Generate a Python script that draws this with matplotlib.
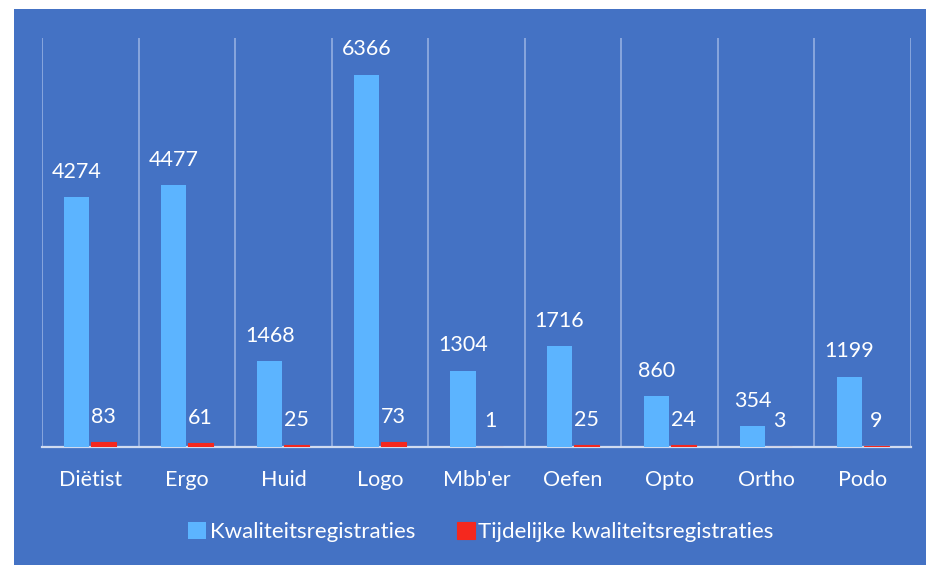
#!/usr/bin/env python3

import matplotlib
matplotlib.use("Agg")
import matplotlib.pyplot as plt
import numpy as np

categories = ["Diëtist", "Ergo", "Huid", "Logo", "Mbb'er", "Oefen", "Opto", "Ortho", "Podo"]
kwaliteit = [4274, 4477, 1468, 6366, 1304, 1716, 860, 354, 1199]
tijdelijk = [83, 61, 25, 73, 1, 25, 24, 3, 9]
series_names = ["Kwaliteitsregistraties", "Tijdelijke kwaliteitsregistraties"]

BG = "#4472C4"
LIGHT_BLUE = "#5CB4FF"
RED = "#F5281E"
GRID = "#8EAADF"

plt.rcParams["font.family"] = ["Lato", "DejaVu Sans"]

W, H = 926, 565
fig = plt.figure(figsize=(W / 100, H / 100), dpi=100, facecolor="white")

# blue panel behind the chart
bg = fig.add_axes([14 / W, 0, 1 - 14 / W, (H - 9) / H], zorder=-1)
bg.set_facecolor(BG)
bg.set_xticks([])
bg.set_yticks([])
for s in bg.spines.values():
    s.set_visible(False)

ax = fig.add_axes([42 / W, (H - 446.7) / H, (911 - 42) / W, (446.7 - 37.7) / H])
ax.set_facecolor("none")

x = np.arange(len(categories))
width = 0.26
offset = 0.14
b1 = ax.bar(x - offset, kwaliteit, width, color=LIGHT_BLUE, label=series_names[0], zorder=3)
b2 = ax.bar(x + offset, tijdelijk, width, color=RED, edgecolor=RED, linewidth=0.8,
            label=series_names[1], zorder=3)

for bars in (b1, b2):
    ax.bar_label(bars, padding=11, color="white", fontsize=15.5)

for b in np.arange(-0.5, len(categories)):
    ax.axvline(b, color=GRID, lw=1.3, zorder=1)

ax.set_xlim(-0.5, len(categories) - 0.5)
ax.set_ylim(0, 7000)
ax.set_yticks([])
ax.set_xticks(x)
ax.set_xticklabels(categories, color="white", fontsize=15.5)
ax.tick_params(axis="x", length=0, pad=17)
for side in ("top", "left", "right"):
    ax.spines[side].set_visible(False)
ax.spines["bottom"].set_color("#D0DBF0")
ax.spines["bottom"].set_linewidth(1.6)
ax.spines["bottom"].set_zorder(2)

fig.legend(loc="center", bbox_to_anchor=(481 / W, (H - 531.7) / H), ncol=2,
           frameon=False, fontsize=16, labelcolor="white",
           handlelength=0.8, handleheight=0.8, handletextpad=0.15,
           columnspacing=1.9)

fig.savefig("out.png", dpi=100, facecolor="white")
